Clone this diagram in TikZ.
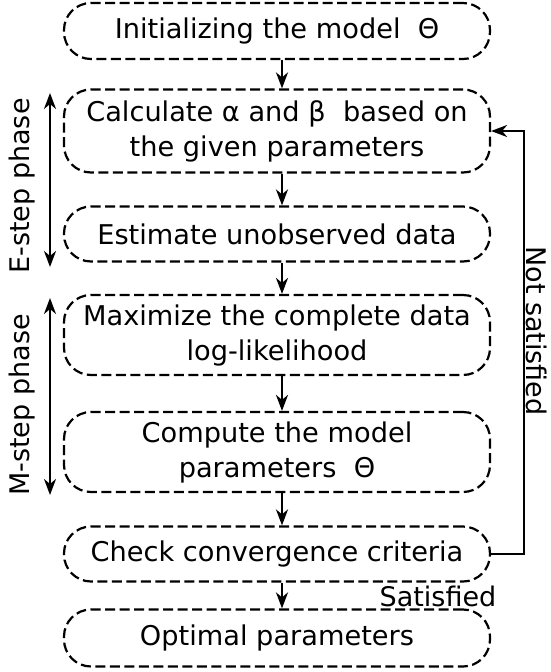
\documentclass[tikz,border=0pt]{standalone}
\usepackage{fontspec}
\setmainfont{DejaVu Sans}
\usetikzlibrary{arrows.meta}

\begin{document}
\begin{tikzpicture}[black, line width=2.2pt, x=1pt, y=-1pt,
    >={Stealth[length=16pt,width=12pt,inset=5pt]},
    txt/.style={font=\fontsize{27}{34}\selectfont},
    stage/.style={txt, draw, dash pattern=on 10pt off 4.5pt, rounded corners=27pt,
      minimum width=426pt, align=center, inner sep=2pt,
      font=\fontsize{27.2}{35}\selectfont}]
    \newcommand\XM{277}
    \newcommand\DX{5pt}
    \useasboundingbox (0,0) rectangle (550,672);
    \node[stage, minimum height=56pt] (Init) at (\XM, 31){Initializing the model~~Θ};
    \node[stage, minimum height=83pt] (Calc) at (\XM, 131){Calculate α and β~~based on\\the given parameters};
    \node[stage, minimum height=55pt] (Est) at (\XM, 234){Estimate unobserved data};
    \node[stage, minimum height=80pt] (Max) at (\XM, 335){Maximize the complete data\\log-likelihood};
    \node[stage, minimum height=80pt] (Comp) at (\XM, 452){Compute the model\\parameters~~Θ};
    \node[stage, minimum height=55pt] (Check) at (\XM, 554){Check convergence criteria};
    \node[stage, minimum height=57pt] (Opt) at (\XM, 638){Optimal parameters};
    \coordinate (Etop) at (50, 93);
    \coordinate (Ebot) at (50, 267);
    \coordinate (Mtop) at (50, 298);
    \coordinate (Mbot) at (50, 495);
    \node[txt, rotate=90] (Elab) at (22, 186){E-step phase};
    \node[txt, rotate=90] (Mlab) at (22, 405){M-step phase};
    \node[txt, rotate=-90] (NotSat) at (537, 331){Not satisfied};
    \node[txt] (Sat) at (438, 596){Satisfied};
    \foreach \a/\b in {Init/Calc, Calc/Est, Est/Max, Max/Comp, Comp/Check, Check/Opt}
      \draw[->] ([xshift=\DX]\a.south) -- ([xshift=\DX]\b.north);
    \draw[<->] (Etop) -- (Ebot);
    \draw[<->] (Mtop) -- (Mbot);
    \draw[->] (Check.east) -- ++(33,0) |- (Calc.east);
  \end{tikzpicture}
\end{document}
